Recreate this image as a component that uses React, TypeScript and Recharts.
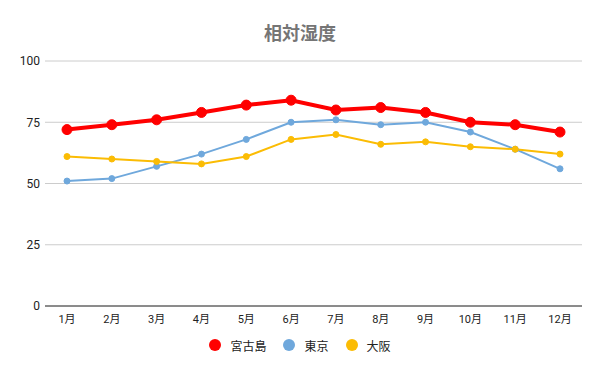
import React from "react";
import { LineChart, Line, XAxis, YAxis, CartesianGrid } from "recharts";

const months = ["1月", "2月", "3月", "4月", "5月", "6月", "7月", "8月", "9月", "10月", "11月", "12月"];
const miyakojima = [72, 74, 76, 79, 82, 84, 80, 81, 79, 75, 74, 71];
const tokyo = [51, 52, 57, 62, 68, 75, 76, 74, 75, 71, 64, 56];
const osaka = [61, 60, 59, 58, 61, 68, 70, 66, 67, 65, 64, 62];
const yTicks = [0, 25, 50, 75, 100];

const seriesInfo = [
  { key: "宮古島", color: "#ff0000" },
  { key: "東京", color: "#6fa8dc" },
  { key: "大阪", color: "#fbbc04" },
];

const data = months.map((m, i) => ({
  month: m,
  宮古島: miyakojima[i],
  東京: tokyo[i],
  大阪: osaka[i],
}));

const FONT = "Roboto, 'Noto Sans CJK JP', sans-serif";

export default function App() {
  return (
    <div style={{ position: "absolute", left: 0, top: 0, width: 600, height: 371, background: "#fff" }}>
      <div
        style={{
          position: "absolute",
          top: 19,
          left: 0,
          width: 600,
          textAlign: "center",
          fontFamily: FONT,
          fontWeight: "bold",
          fontSize: 18,
          color: "#757575",
        }}
      >
        相対湿度
      </div>
      <LineChart width={600} height={371} data={data} margin={{ top: 61, right: 18, left: 5, bottom: 35 }}>
        <CartesianGrid vertical={false} stroke="#cccccc" />
        <XAxis
          dataKey="month"
          height={30}
          padding={{ left: 22, right: 22 }}
          axisLine={{ stroke: "#333333" }}
          tickLine={false}
          tickSize={0}
          tickMargin={9}
          interval={0}
          tick={{ fill: "#222", fontSize: 11, fontFamily: FONT }}
        />
        <YAxis
          domain={[0, 100]}
          ticks={yTicks}
          width={40}
          axisLine={false}
          tickLine={false}
          tickSize={0}
          tickMargin={5}
          tick={{ fill: "#222", fontSize: 12, fontFamily: FONT }}
        />
        <Line
          dataKey="宮古島"
          stroke="#ff0000"
          strokeWidth={4}
          dot={{ r: 5, fill: "#ff0000", stroke: "#ff0000", strokeWidth: 1 }}
          isAnimationActive={false}
        />
        <Line
          dataKey="東京"
          stroke="#6fa8dc"
          strokeWidth={2}
          dot={{ r: 3, fill: "#6fa8dc", stroke: "#6fa8dc", strokeWidth: 1 }}
          isAnimationActive={false}
        />
        <Line
          dataKey="大阪"
          stroke="#fbbc04"
          strokeWidth={2}
          dot={{ r: 3, fill: "#fbbc04", stroke: "#fbbc04", strokeWidth: 1 }}
          isAnimationActive={false}
        />
      </LineChart>
      <div
        style={{
          position: "absolute",
          top: 337,
          left: 0,
          width: 600,
          height: 16,
          display: "flex",
          justifyContent: "center",
          alignItems: "center",
          fontFamily: FONT,
          fontSize: 12,
          color: "#222",
        }}
      >
        {seriesInfo.map((s, i) => (
          <div key={s.key} style={{ display: "flex", alignItems: "center", marginRight: i < seriesInfo.length - 1 ? 17 : 0 }}>
            <svg width={12} height={12} style={{ marginRight: 9 }}>
              <circle cx={6} cy={6} r={6} fill={s.color} />
            </svg>
            <span>{s.key}</span>
          </div>
        ))}
      </div>
    </div>
  );
}
